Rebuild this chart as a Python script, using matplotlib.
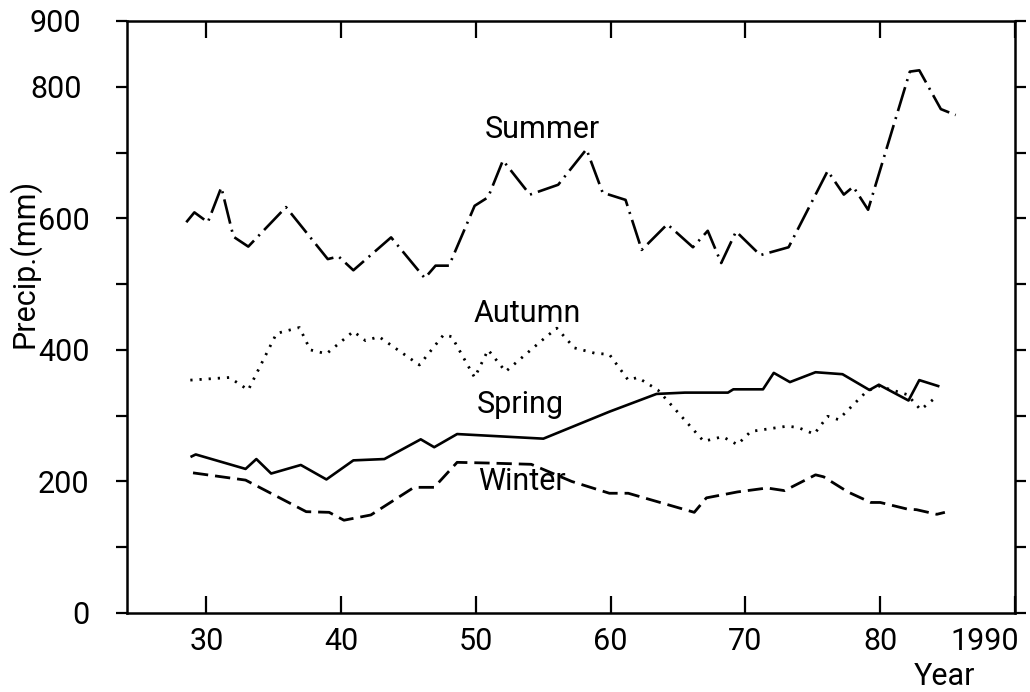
import matplotlib
matplotlib.use("Agg")
import matplotlib.pyplot as plt
from matplotlib.transforms import ScaledTranslation
from matplotlib.ticker import FixedLocator

# ---------------- data ----------------
years_summer = [1928.5, 1929.1, 1930.1, 1931.1, 1932.0, 1933.1, 1935.9, 1939.0, 1939.8,
                1940.9, 1943.7, 1946.2, 1947.0, 1948.0, 1949.9, 1950.9, 1952.0, 1954.0,
                1956.1, 1958.2, 1959.4, 1961.1, 1962.3, 1964.2, 1966.1, 1967.2, 1968.2,
                1969.3, 1971.1, 1973.2, 1976.1, 1977.3, 1978.0, 1979.1, 1982.2, 1982.9,
                1984.5, 1985.6]
summer = [594, 609, 594, 647, 572, 557, 617, 538, 542,
          521, 571, 509, 528, 528, 619, 632, 688, 636,
          651, 705, 639, 628, 552, 591, 556, 581, 532,
          580, 544, 556, 672, 636, 648, 613, 823, 825,
          766, 757]

years_autumn = [1928.8, 1931.7, 1933.1, 1935.2, 1936.9, 1937.7, 1938.9, 1940.9, 1941.8,
                1942.8, 1945.8, 1947.6, 1948.2, 1949.9, 1950.9, 1952.2, 1955.1, 1956.0,
                1957.3, 1958.8, 1959.9, 1961.3, 1962.0, 1963.5, 1966.9, 1968.3, 1969.4,
                1970.4, 1973.1, 1973.9, 1975.1, 1976.1, 1976.9, 1979.0, 1979.9, 1982.0,
                1983.0, 1984.2]
autumn = [354, 358, 339, 425, 434, 400, 394, 428, 414,
          420, 377, 423, 420, 358, 400, 367, 418, 433,
          403, 395, 393, 354, 358, 339, 261, 268, 256,
          276, 284, 282, 272, 299, 294, 337, 345, 332,
          309, 329]

years_spring = [1928.9, 1929.2, 1932.9, 1933.7, 1934.8, 1937.0, 1938.9, 1940.9, 1943.2,
                1945.9, 1946.9, 1948.6, 1955.0, 1959.9, 1963.4, 1965.5, 1968.7, 1969.1,
                1971.3, 1972.1, 1973.3, 1975.2, 1977.2, 1979.2, 1979.9, 1982.1, 1982.9,
                1984.3]
spring = [238, 241, 219, 234, 212, 225, 203, 232, 234,
          264, 252, 272, 265, 306, 333, 335, 335, 340,
          340, 365, 351, 366, 363, 339, 347, 323, 354,
          345]

years_winter = [1929.0, 1932.9, 1937.4, 1939.1, 1940.2, 1942.2, 1945.4, 1946.9, 1948.6,
                1950.8, 1954.1, 1957.1, 1959.9, 1961.3, 1966.2, 1967.1, 1969.4, 1971.6,
                1972.9, 1975.2, 1975.8, 1977.6, 1979.3, 1980.0, 1982.0, 1982.7, 1984.2,
                1984.8]
winter = [213, 202, 154, 153, 141, 149, 191, 191, 229,
          228, 226, 200, 182, 182, 153, 175, 184, 190,
          186, 210, 207, 184, 168, 168, 158, 157, 150,
          153]

x_ticks = [1930, 1940, 1950, 1960, 1970, 1980, 1990]
x_tick_labels = ["30", "40", "50", "60", "70", "80", "1990"]
y_ticks = [0, 200, 400, 600, 800, 900]
y_tick_labels = ["0", "200", "400", "600", "800", "900"]
y_minor = [100, 300, 500, 700]

plt.rcParams["font.family"] = ["Roboto", "DejaVu Sans"]
plt.rcParams["lines.scale_dashes"] = False

fig = plt.figure(figsize=(10.30, 6.92), dpi=100)
ax = fig.add_axes([0.1233, 0.1142, 0.8621, 0.8555])

ax.plot(years_summer, summer, color="black", lw=1.9, linestyle=(0, (18, 4.5, 1.5, 4.5)))
ax.plot(years_autumn, autumn, color="black", lw=2.0, linestyle=(0, (1.6, 5.0)))
ax.plot(years_spring, spring, color="black", lw=1.9, linestyle="-")
ax.plot(years_winter, winter, color="black", lw=2.0, linestyle=(0, (11, 5)))

ax.set_xlim(1924.1, 1990)
ax.set_ylim(0, 900)

for s in ax.spines.values():
    s.set_linewidth(1.8)

# x ticks
ax.xaxis.set_major_locator(FixedLocator(x_ticks))
ax.set_xticklabels(x_tick_labels)
ax.tick_params(axis="x", which="major", direction="in", length=12, width=1.6,
               top=True, bottom=True, labelsize=22, pad=10)
# y ticks
ax.yaxis.set_major_locator(FixedLocator(y_ticks))
ax.yaxis.set_minor_locator(FixedLocator(y_minor))
ax.set_yticklabels(y_tick_labels)
ax.tick_params(axis="y", which="both", direction="out", length=8, width=1.6,
               left=True, right=True, labelsize=22, pad=19)

# hand-lettered label offsets, as in the original
for lab in ax.get_xticklabels():
    if lab.get_text() == "1990":
        lab.set_transform(lab.get_transform() + ScaledTranslation(-0.30, 0, fig.dpi_scale_trans))
for lab in ax.get_yticklabels():
    if lab.get_text() in ("800", "900"):
        lab.set_transform(lab.get_transform() + ScaledTranslation(-0.08, 0, fig.dpi_scale_trans))

ax.set_xlabel("Year", fontsize=22)
ax.xaxis.label.set_va("center")
ax.xaxis.set_label_coords(0.921, -0.108)
ax.set_ylabel("Precip.(mm)", fontsize=22)
ax.yaxis.label.set_va("center")
ax.yaxis.set_label_coords(-0.116, 0.591)

lab_kw = dict(ha="center", va="baseline", fontsize=22)
ax.text(1954.9, 722, "Summer", **lab_kw)
ax.text(1953.8, 442, "Autumn", **lab_kw)
ax.text(1953.3, 304, "Spring", **lab_kw)
ax.text(1953.4, 187, "Winter", **lab_kw)

fig.savefig("out.png", dpi=100)
